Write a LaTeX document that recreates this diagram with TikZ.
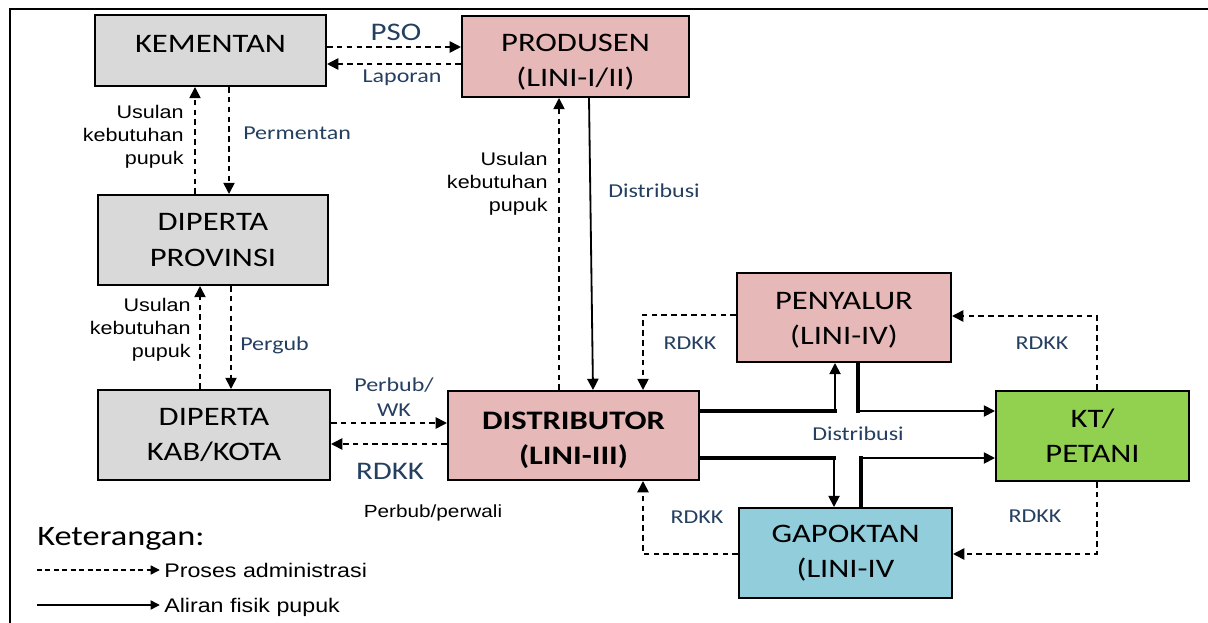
\documentclass[tikz,border=0pt]{standalone}
\usepackage{fontspec}
\usetikzlibrary{arrows.meta}
\newfontfamily\boxfont{Carlito}[FakeStretch=1.22]
\newfontfamily\arialfont{Liberation Sans}[FakeStretch=1.18]
\definecolor{abu}{HTML}{D9D9D9}
\definecolor{merah}{HTML}{E6B8B7}
\definecolor{hijau}{HTML}{92D050}
\definecolor{biru}{HTML}{92CDDC}
\definecolor{teks}{HTML}{243F60}
\tikzset{
  kotak/.style={draw,line width=1.4pt,inner sep=0pt,align=center,
    font=\boxfont\fontsize{19}{25}\selectfont},
  adm/.style={dash pattern=on 4pt off 3pt,line width=1.2pt,
    -{Triangle[length=8pt,width=8pt]}},
  fisik/.style={line width=1.3pt,-{Triangle[length=8pt,width=8pt]}},
  fisiktebal/.style={line width=2.5pt,line cap=rect},
  ket/.style={font=\boxfont\fontsize{14}{18}\selectfont,text=teks,inner sep=0pt},
  ketbesar/.style={font=\boxfont\fontsize{18}{22}\selectfont,text=teks,inner sep=0pt},
  usul/.style={font=\arialfont\fontsize{13}{16.4}\selectfont,align=right,
    anchor=east,inner sep=0pt},
}
\begin{document}
\begin{tikzpicture}[x=0.025cm,y=-0.025cm]
\useasboundingbox (0,0) rectangle (1208,623);
\draw[line width=1.5pt] (10,623) -- (10,9) -- (1208,9);

% lembaga
\node[kotak,fill=abu,minimum width=5.775cm,minimum height=1.775cm] (kem) at (210.5,50.5) {KEMENTAN\rule[-10pt]{0pt}{10pt}};
\node[kotak,fill=merah,minimum width=5.675cm,minimum height=2.025cm] (prod) at (575.5,56.5) {\rule{0pt}{20pt}PRODUSEN\\(LINI-I/II)};
\node[kotak,fill=abu,minimum width=5.75cm,minimum height=2.25cm] (prov) at (213,240) {DIPERTA\\PROVINSI};
\node[kotak,fill=abu,minimum width=5.8cm,minimum height=2.25cm] (kab) at (214,435) {DIPERTA\\KAB/KOTA};
\node[kotak,fill=merah,minimum width=6.275cm,minimum height=2.225cm,
  font=\boxfont\fontsize{19}{25}\selectfont\bfseries] (dist) at (573.5,435.5) {\rule{0pt}{19pt}DISTRIBUTOR\\(LINI-III)};
\node[kotak,fill=merah,minimum width=5.35cm,minimum height=2.225cm] (peny) at (844,317.5) {\rule{0pt}{16pt}PENYALUR\\(LINI-IV)};
\node[kotak,fill=hijau,minimum width=4.825cm,minimum height=2.25cm] (kt) at (1092.5,436) {KT/\\PETANI};
\node[kotak,fill=biru,minimum width=5.325cm,minimum height=2.25cm] (gap) at (845.5,553) {GAPOKTAN\\(LINI-IV};

% proses administrasi
\draw[adm] (kem.east |- 0,47) -- (prod.west |- 0,47);
\draw[adm] (prod.west |- 0,64) -- (kem.east |- 0,64);
\draw[adm] (prov.north -| 195,0) -- (kem.south -| 195,0);
\draw[adm] (kem.south -| 229,0) -- (prov.north -| 229,0);
\draw[adm] (kab.north -| 200,0) -- (prov.south -| 200,0);
\draw[adm] (prov.south -| 231,0) -- (kab.north -| 231,0);
\draw[adm] (kab.east |- 0,423) -- (dist.west |- 0,423);
\draw[adm] (dist.west |- 0,444) -- (kab.east |- 0,444);
\draw[adm] (dist.north -| 559,0) -- (prod.south -| 559,0);
\draw[adm] (peny.west |- 0,315) -| (dist.north -| 643,0);
\draw[adm] (gap.west |- 0,554) -| (dist.south -| 643,0);
\draw[adm] (kt.north -| 1097,0) |- (peny.east |- 0,316);
\draw[adm] (kt.south -| 1097,0) |- (gap.east |- 0,554);

% aliran fisik
\draw[fisik] (prod.south -| 589,0) -- (dist.north -| 593,0);
\coordinate (ja) at (835,411);
\coordinate (jb) at (858,411);
\coordinate (jc) at (834,458);
\coordinate (jd) at (861,458);
\draw[fisiktebal] (dist.east |- ja) -- (ja);
\draw[fisik] (ja) -- (peny.south -| ja);
\draw[fisiktebal] (peny.south -| jb) -- (jb);
\draw[fisik] (jb) -- (kt.west |- jb);
\draw[fisiktebal] (dist.east |- jc) -- (jc);
\draw[fisik] (jc) -- (gap.north -| jc);
\draw[fisiktebal] (gap.north -| jd) -- (jd);
\draw[fisik] (jd) -- (kt.west |- jd);

% label
\node[ketbesar,anchor=base] (lpso) at (396,41) {PSO};
\node[ket,anchor=base] (llap) at (402,83) {Laporan};
\node[ket,anchor=base west] (lperm) at (243,140) {Permentan};
\node[ket,anchor=base west] (lperg) at (240,350) {Pergub};
\node[ket,align=center] (lwk) at (394,397) {Perbub/\\WK};
\node[ketbesar,anchor=base] (lrdkk) at (390,479) {RDKK};
\node[ket,anchor=base west] (ldis1) at (608,197) {Distribusi};
\node[ket,anchor=base] (ldis2) at (858,440) {Distribusi};
\node[ket,anchor=base] (lr1) at (690,349) {RDKK};
\node[ket,anchor=base] (lr2) at (1042,349) {RDKK};
\node[ket,anchor=base] (lr3) at (697,523) {RDKK};
\node[ket,anchor=base] (lr4) at (1035,522) {RDKK};
\node[usul] (lus1) at (184,137) {Usulan\\kebutuhan\\pupuk};
\node[usul] (lus2) at (191,330) {Usulan\\kebutuhan\\pupuk};
\node[usul] (lus3) at (548,184) {Usulan\\kebutuhan\\pupuk};
\node[font=\arialfont\fontsize{12.5}{15}\selectfont,anchor=base,inner sep=0pt] (lperw) at (433,517) {Perbub/perwali};

% keterangan
\node[font=\boxfont\fontsize{20}{24}\selectfont,anchor=base west,inner sep=0pt] (judul) at (37,545) {Keterangan:};
\node[font=\arialfont\fontsize{14}{17}\selectfont,anchor=base west,inner sep=0pt] (t1) at (164,577) {Proses administrasi};
\node[font=\arialfont\fontsize{14}{17}\selectfont,anchor=base west,inner sep=0pt] (t2) at (164,612) {Aliran fisik pupuk};
\coordinate (l1) at (37,570);
\coordinate (l2) at (37,605);
\draw[dash pattern=on 3.5pt off 2.5pt,line width=0.9pt,-{Triangle[length=6.5pt,width=6.5pt]},shorten >=3pt] (l1) -- (t1.west |- l1);
\draw[line width=1pt,-{Triangle[length=6.5pt,width=6.5pt]},shorten >=3pt] (l2) -- (t2.west |- l2);
\end{tikzpicture}
\end{document}
